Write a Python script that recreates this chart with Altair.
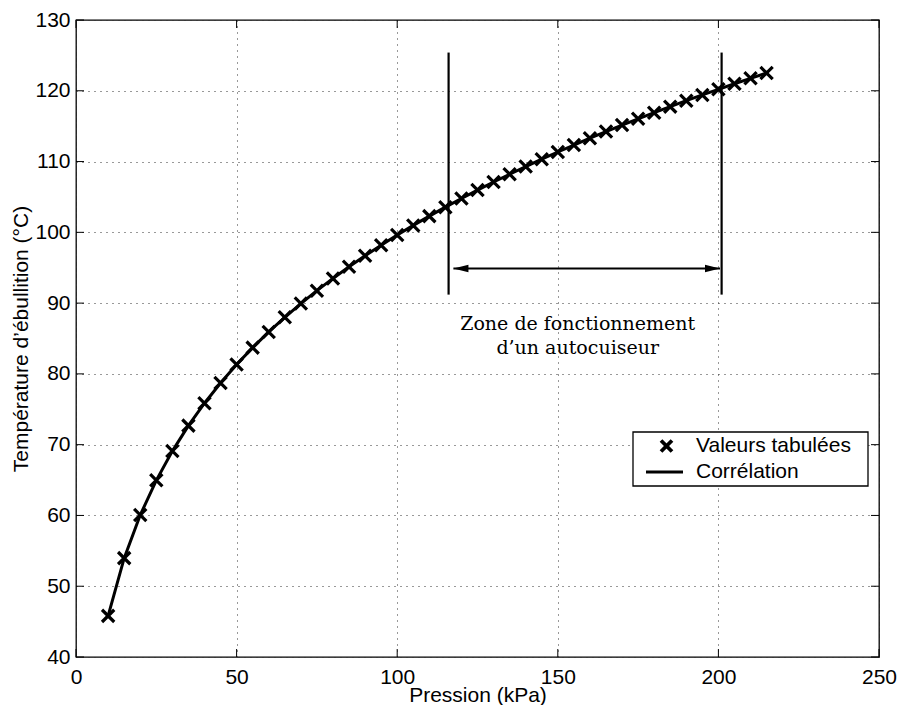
import altair as alt
import pandas as pd

pression = [10, 15, 20, 25, 30, 35, 40, 45, 50, 55, 60, 65, 70, 75, 80, 85, 90, 95, 100,
            105, 110, 115, 120, 125, 130, 135, 140, 145, 150, 155, 160, 165, 170, 175,
            180, 185, 190, 195, 200, 205, 210, 215]
temperature = [45.81, 53.97, 60.06, 64.96, 69.09, 72.69, 75.86, 78.71, 81.32, 83.71,
               85.93, 87.99, 89.93, 91.76, 93.49, 95.13, 96.69, 98.18, 99.61, 100.98,
               102.29, 103.56, 104.78, 105.97, 107.11, 108.21, 109.29, 110.33, 111.35,
               112.33, 113.30, 114.23, 115.15, 116.04, 116.91, 117.76, 118.60, 119.41,
               120.21, 120.99, 121.76, 122.51]

x_ticks = [0, 50, 100, 150, 200, 250]
y_ticks = [40, 50, 60, 70, 80, 90, 100, 110, 120, 130]

zone_bounds = [116, 201]
zone_bottom = [91.2, 91.2]
zone_top = [125.4, 125.4]
arrow_start = [117.5]
arrow_end = [200.5]
arrow_y = [94.9]
annot_lines = ["Zone de fonctionnement", "d\u2019un autocuiseur"]
annot_x = [156.2, 156.2]
annot_y = [87.0, 83.6]
legend_labels = ["Valeurs tabulées", "Corrélation"]

W, H = 803, 637
FONT = "Liberation Sans"
CROSS = "M-1,-1L1,1M-1,1L1,-1"

xs = alt.Scale(domain=[0, 250], nice=False, zero=False)
ys = alt.Scale(domain=[40, 130], nice=False, zero=False)

df = pd.DataFrame({"pression": pression, "temperature": temperature})

x_axis = alt.Axis(values=x_ticks, title="Pression (kPa)", grid=True, gridDash=[1, 5],
                  gridColor="#333", gridWidth=1, domain=False, ticks=False,
                  labelFontSize=21, titleFontSize=21, labelPadding=9, titlePadding=-3,
                  labelColor="black", titleColor="black", titleFontWeight="normal",
                  labelFont=FONT, titleFont=FONT, labelFlush=False)
y_axis = alt.Axis(values=y_ticks, title="Température d\u2019ébullition (°C)", grid=True,
                  gridDash=[1, 5], gridColor="#333", gridWidth=1, domain=False, ticks=False,
                  labelFontSize=21, titleFontSize=21, labelPadding=6, titlePadding=3,
                  labelColor="black", titleColor="black", titleFontWeight="normal",
                  labelFont=FONT, titleFont=FONT, labelFlush=False)


def X(field):
    return alt.X(field, scale=xs, axis=x_axis)


def Y(field):
    return alt.Y(field, scale=ys, axis=y_axis)


line = alt.Chart(df).mark_line(color="black", strokeWidth=3).encode(
    x=X("pression:Q"), y=Y("temperature:Q"))
points = alt.Chart(df).mark_point(shape=CROSS, size=150, stroke="black", strokeWidth=3.2,
                                  filled=False, opacity=1).encode(
    x=X("pression:Q"), y=Y("temperature:Q"))

zone_df = pd.DataFrame({"pression": zone_bounds, "bas": zone_bottom, "haut": zone_top})
zone = alt.Chart(zone_df).mark_rule(color="black", strokeWidth=2.2).encode(
    x=X("pression:Q"), y=Y("bas:Q"), y2="haut:Q")

arrow_df = pd.DataFrame({"x1": arrow_start, "x2": arrow_end, "y": arrow_y})
arrow = alt.Chart(arrow_df).mark_rule(color="black", strokeWidth=2).encode(
    x=X("x1:Q"), x2="x2:Q", y=Y("y:Q"))
head_l = alt.Chart(arrow_df).mark_point(shape="M0,0L1,-0.25L1,0.25Z", size=900, filled=True,
                                        color="black", opacity=1).encode(
    x=X("x1:Q"), y=Y("y:Q"))
head_r = alt.Chart(arrow_df).mark_point(shape="M0,0L-1,-0.25L-1,0.25Z", size=900, filled=True,
                                        color="black", opacity=1).encode(
    x=X("x2:Q"), y=Y("y:Q"))

annot_df = pd.DataFrame({"txt": annot_lines, "x": annot_x, "y": annot_y})
annot = alt.Chart(annot_df).mark_text(font="DejaVu Serif", fontSize=19, color="black",
                                      align="center", baseline="middle").encode(
    x=X("x:Q"), y=Y("y:Q"), text="txt:N")

# legend (drawn in pixel space)
LX = 2
leg_df = pd.DataFrame({"label": legend_labels})
leg_box = alt.Chart(leg_df.head(1)).mark_rect(fill="white", stroke="black", strokeWidth=1.3).encode(
    x=alt.value(555 + LX), x2=alt.value(790 + LX), y=alt.value(412), y2=alt.value(466))
leg_cross = alt.Chart(leg_df.head(1)).mark_point(shape=CROSS, size=120, stroke="black",
                                                  strokeWidth=3.8, filled=False, opacity=1).encode(
    x=alt.value(588.5 + LX), y=alt.value(426))
leg_line = alt.Chart(leg_df.head(1)).mark_rule(color="black", strokeWidth=3).encode(
    x=alt.value(568 + LX), x2=alt.value(605 + LX), y=alt.value(452))
leg_t1 = alt.Chart(leg_df.head(1)).mark_text(font=FONT, fontSize=21, align="left",
                                             baseline="middle", color="black").encode(
    x=alt.value(618 + LX), y=alt.value(426), text="label:N")
leg_t2 = alt.Chart(leg_df.tail(1)).mark_text(font=FONT, fontSize=21, align="left",
                                             baseline="middle", color="black").encode(
    x=alt.value(618 + LX), y=alt.value(452), text="label:N")

# inner ticks (MATLAB style)
xt_df = pd.DataFrame({"t": x_ticks})
yt_df = pd.DataFrame({"t": y_ticks})
tb = alt.Chart(xt_df).mark_rule(color="black", strokeWidth=1).encode(
    x=X("t:Q"), y=alt.value(H), y2=alt.value(H - 8))
tt = alt.Chart(xt_df).mark_rule(color="black", strokeWidth=1).encode(
    x=X("t:Q"), y=alt.value(0), y2=alt.value(8))
tl = alt.Chart(yt_df).mark_rule(color="black", strokeWidth=1).encode(
    y=Y("t:Q"), x=alt.value(0), x2=alt.value(8))
tr = alt.Chart(yt_df).mark_rule(color="black", strokeWidth=1).encode(
    y=Y("t:Q"), x=alt.value(W), x2=alt.value(W - 8))

chart = alt.layer(
    line, points, zone, arrow, head_l, head_r, annot,
    leg_box, leg_cross, leg_line, leg_t1, leg_t2, tb, tt, tl, tr
).properties(
    width=W, height=H,
    autosize=alt.AutoSizeParams(type="none"),
    padding={"left": 68, "top": 12, "right": 18, "bottom": 48},
).configure(font=FONT).configure_view(stroke="black", strokeWidth=1.3)

chart.save("out.html", embed_options={"renderer": "svg", "actions": False})
